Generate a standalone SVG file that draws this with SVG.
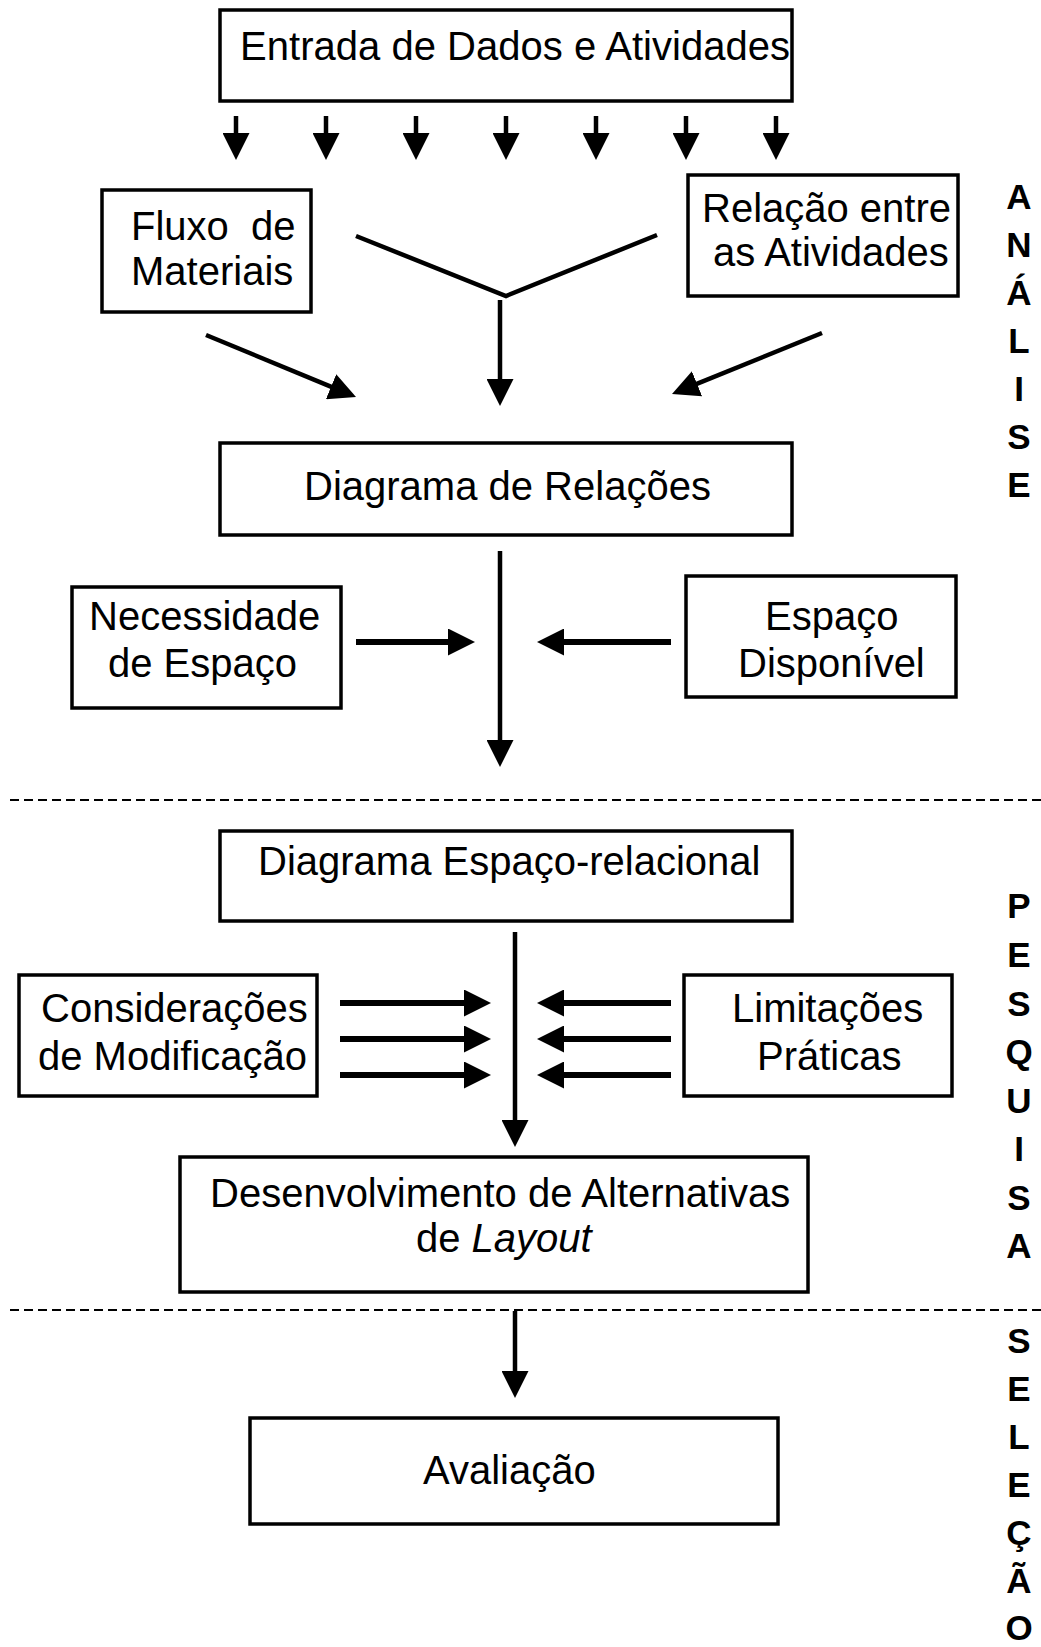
<svg xmlns="http://www.w3.org/2000/svg" width="1041" height="1647" viewBox="0 0 1041 1647">
<style>
.box{fill:#fff;stroke:#000;stroke-width:3.5}
.t{font-family:"Liberation Sans",Arial,sans-serif;font-size:40px;fill:#000}
.lbl{font-family:"Liberation Sans",Arial,sans-serif;font-size:35px;font-weight:bold;fill:#000;text-anchor:middle}
.ln{stroke:#000;stroke-width:4.5;fill:none}
.arr{stroke:#000;stroke-width:4.5;fill:none;marker-end:url(#ah)}
.arrb{stroke:#000;stroke-width:6;fill:none;marker-end:url(#ah)}
.dash{stroke:#000;stroke-width:2;stroke-dasharray:9 5;fill:none}
</style>
<defs>
<marker id="ah" viewBox="0 0 27 27" refX="1" refY="13.5" markerWidth="27" markerHeight="27" markerUnits="userSpaceOnUse" orient="auto">
<path d="M0,0 L27,13.5 L0,27 z" fill="#000"/>
</marker>
</defs>
<rect width="1041" height="1647" fill="#fff"/>

<g id="entrada">
<rect class="box" x="220" y="10" width="572" height="91"/>
<text class="t" x="240" y="60" textLength="550" lengthAdjust="spacing">Entrada de Dados e Atividades</text>
</g>

<g id="fluxo">
<rect class="box" x="102" y="190" width="209" height="122"/>
<text class="t" y="240"><tspan x="131">Fluxo</tspan><tspan x="251">de</tspan></text>
<text class="t" x="131" y="285">Materiais</text>
</g>

<g id="relacao">
<rect class="box" x="688" y="175" width="270" height="121"/>
<text class="t" x="702" y="222">Relação entre</text>
<text class="t" x="713" y="266">as Atividades</text>
</g>

<g id="diagrama-relacoes">
<rect class="box" x="220" y="443" width="572" height="92"/>
<text class="t" x="304" y="500">Diagrama de Relações</text>
</g>

<g id="necessidade">
<rect class="box" x="72" y="587" width="269" height="121"/>
<text class="t" x="89" y="630">Necessidade</text>
<text class="t" x="108" y="677">de Espaço</text>
</g>

<g id="espaco-disponivel">
<rect class="box" x="686" y="576" width="270" height="121"/>
<text class="t" x="765" y="630">Espaço</text>
<text class="t" x="738" y="677">Disponível</text>
</g>

<g id="diagrama-espaco">
<rect class="box" x="220" y="831" width="572" height="90"/>
<text class="t" x="258" y="875">Diagrama Espaço-relacional</text>
</g>

<g id="consideracoes">
<rect class="box" x="19" y="975" width="298" height="121"/>
<text class="t" x="41" y="1022">Considerações</text>
<text class="t" x="38" y="1070">de Modificação</text>
</g>

<g id="limitacoes">
<rect class="box" x="684" y="975" width="268" height="121"/>
<text class="t" x="732" y="1022">Limitações</text>
<text class="t" x="757" y="1070">Práticas</text>
</g>

<g id="desenvolvimento">
<rect class="box" x="180" y="1157" width="628" height="135"/>
<text class="t" x="210" y="1207">Desenvolvimento de Alternativas</text>
<text class="t" x="416" y="1252">de <tspan font-style="italic">Layout</tspan></text>
</g>

<g id="avaliacao">
<rect class="box" x="250" y="1418" width="528" height="106"/>
<text class="t" x="423" y="1484">Avaliação</text>
</g>

<g id="connectors">
<line class="arr" x1="236" y1="116" x2="236" y2="134"/>
<line class="arr" x1="326" y1="116" x2="326" y2="134"/>
<line class="arr" x1="416" y1="116" x2="416" y2="134"/>
<line class="arr" x1="506" y1="116" x2="506" y2="134"/>
<line class="arr" x1="596" y1="116" x2="596" y2="134"/>
<line class="arr" x1="686" y1="116" x2="686" y2="134"/>
<line class="arr" x1="776" y1="116" x2="776" y2="134"/>

<polyline class="ln" points="356,236 506,296 657,235"/>
<line class="arr" x1="500" y1="300" x2="500" y2="380"/>
<line class="arr" x1="206" y1="335" x2="332" y2="387.1"/>
<line class="arr" x1="822" y1="333" x2="696.1" y2="384.2"/>

<line class="arr" x1="500" y1="551" x2="500" y2="741"/>
<line class="arrb" x1="356" y1="642" x2="449" y2="642"/>
<line class="arrb" x1="671" y1="642" x2="563" y2="642"/>

<line class="arr" x1="515" y1="932" x2="515" y2="1121"/>
<line class="arrb" x1="340" y1="1003" x2="465" y2="1003"/>
<line class="arrb" x1="340" y1="1039" x2="465" y2="1039"/>
<line class="arrb" x1="340" y1="1075" x2="465" y2="1075"/>
<line class="arrb" x1="671" y1="1003" x2="563" y2="1003"/>
<line class="arrb" x1="671" y1="1039" x2="563" y2="1039"/>
<line class="arrb" x1="671" y1="1075" x2="563" y2="1075"/>

<line class="arr" x1="515" y1="1311" x2="515" y2="1372"/>
</g>

<g id="separators">
<line class="dash" x1="10" y1="800" x2="1041" y2="800"/>
<line class="dash" x1="10" y1="1310" x2="1041" y2="1310"/>
</g>

<g id="fase-analise">
<text class="lbl" x="1019" y="209">A</text>
<text class="lbl" x="1019" y="257">N</text>
<text class="lbl" x="1019" y="305">Á</text>
<text class="lbl" x="1019" y="353">L</text>
<text class="lbl" x="1019" y="401">I</text>
<text class="lbl" x="1019" y="449">S</text>
<text class="lbl" x="1019" y="497">E</text>
</g>

<g id="fase-pesquisa">
<text class="lbl" x="1019" y="918">P</text>
<text class="lbl" x="1019" y="967">E</text>
<text class="lbl" x="1019" y="1016">S</text>
<text class="lbl" x="1019" y="1064">Q</text>
<text class="lbl" x="1019" y="1113">U</text>
<text class="lbl" x="1019" y="1161">I</text>
<text class="lbl" x="1019" y="1210">S</text>
<text class="lbl" x="1019" y="1258">A</text>
</g>

<g id="fase-selecao">
<text class="lbl" x="1019" y="1353">S</text>
<text class="lbl" x="1019" y="1401">E</text>
<text class="lbl" x="1019" y="1449">L</text>
<text class="lbl" x="1019" y="1497">E</text>
<text class="lbl" x="1019" y="1545">Ç</text>
<text class="lbl" x="1019" y="1593">Ã</text>
<text class="lbl" x="1019" y="1640">O</text>
</g>
</svg>
